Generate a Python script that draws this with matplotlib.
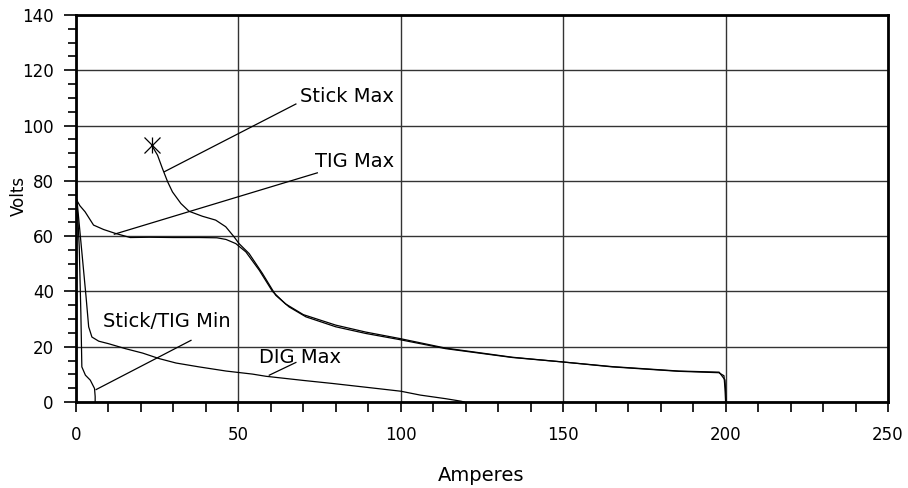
import matplotlib.pyplot as plt
from matplotlib.ticker import MultipleLocator

# volt-ampere curves (amps, volts)
stick_max_a = [23.3, 25.1, 26.6, 28.2, 29.7, 32.3, 34.8, 38.9, 43.0, 46.1, 48.7, 50.2,
               53.3, 57.4, 61.5, 65.6, 70.8, 80.0, 89.2, 99.5, 113.8, 134.3, 149.7,
               165.1, 185.6, 197.9, 199.5, 199.8, 200.0]
stick_max_v = [92.9, 89.3, 84.5, 79.7, 76.0, 71.8, 69.0, 67.2, 65.8, 63.4, 59.7, 57.3,
               53.7, 46.5, 38.6, 34.4, 30.8, 27.2, 24.8, 22.6, 19.3, 16.1, 14.5,
               12.7, 11.1, 10.6, 9.5, 5.0, 0.0]

tig_max_a = [0.0, 1.2, 2.8, 5.4, 8.5, 12.1, 16.7, 22.6, 30.0, 38.0, 43.4, 46.2, 49.2, 52.3,
             56.4, 60.5, 64.5, 70.0, 80.0, 89.2, 99.5, 113.8, 134.3, 149.7, 165.1, 185.6,
             198.0, 199.8, 200.2]
tig_max_v = [73.5, 71.0, 68.8, 64.0, 62.4, 61.0, 59.5, 59.6, 59.5, 59.5, 59.4, 58.8, 57.3, 54.3,
             47.7, 40.0, 35.5, 31.6, 27.8, 25.3, 23.0, 19.5, 16.2, 14.5, 12.8, 11.2,
             10.8, 8.0, 0.0]

min_a = [0.2, 0.6, 1.0, 1.5, 1.8, 2.9, 4.4, 5.7, 5.9, 5.9]
min_v = [73.0, 66.0, 56.0, 32.0, 12.7, 9.7, 7.9, 4.9, 2.0, 0.0]

dig_max_a = [0.3, 1.5, 3.1, 3.9, 4.9, 7.0, 10.0, 15.2, 20.5, 25.6, 30.8, 37.9, 46.2, 54.3,
             58.5, 70.0, 79.0, 93.3, 100.0, 106.0, 113.8, 118.5, 119.5]
dig_max_v = [73.0, 58.0, 38.0, 27.2, 23.5, 22.0, 21.1, 19.3, 17.7, 15.7, 14.1, 12.7, 11.2, 10.1,
             9.3, 7.8, 6.7, 4.8, 3.9, 2.5, 1.2, 0.3, 0.0]

# label text, text anchor, leader start, leader end
labels = ['Stick Max', 'TIG Max', 'Stick/TIG Min', 'DIG Max']
label_xy = [(97.9, 110.5), (97.9, 87.0), (8.2, 29.0), (56.4, 16.2)]
label_ha = ['right', 'right', 'left', 'left']
leader_from = [(67.7, 107.8), (74.3, 82.9), (35.4, 22.3), (67.7, 14.3)]
leader_to = [(27.2, 83.3), (11.8, 60.7), (6.2, 4.5), (59.5, 9.7)]

fig = plt.figure(figsize=(9.08, 4.88), dpi=100)
ax = fig.add_axes([76 / 908, 86 / 488, 812 / 908, 387 / 488])

for a, v in [(stick_max_a, stick_max_v), (tig_max_a, tig_max_v),
             (min_a, min_v), (dig_max_a, dig_max_v)]:
    ax.plot(a, v, color='black', lw=0.9, zorder=3)

# asterisk at start of Stick Max
ax.plot(stick_max_a[0], stick_max_v[0], marker='x', ms=11, mew=0.9, color='black', zorder=4)
ax.plot(stick_max_a[0], stick_max_v[0], marker='|', ms=12, mew=0.9, color='black', zorder=4)

for txt, xy, ha, p0, p1 in zip(labels, label_xy, label_ha, leader_from, leader_to):
    ax.text(xy[0], xy[1], txt, ha=ha, va='center', fontsize=14, zorder=5)
    ax.plot([p0[0], p1[0]], [p0[1], p1[1]], color='black', lw=0.9, zorder=3)

ax.set_xlim(0, 250)
ax.set_ylim(0, 140)
ax.xaxis.set_major_locator(MultipleLocator(50))
ax.xaxis.set_minor_locator(MultipleLocator(10))
ax.yaxis.set_major_locator(MultipleLocator(20))
ax.yaxis.set_minor_locator(MultipleLocator(5))
ax.grid(True, which='major', color='#333333', lw=1.0)
ax.set_axisbelow(True)

for s in ax.spines.values():
    s.set_linewidth(2)
ax.tick_params(axis='both', which='both', direction='out', labelsize=12, width=1.2)
ax.tick_params(axis='x', which='both', length=7, pad=10)
ax.tick_params(axis='y', which='major', length=9, pad=7)
ax.tick_params(axis='y', which='minor', length=6)

ax.set_xlabel('Amperes', fontsize=14)
ax.set_ylabel('Volts', fontsize=12)
ax.xaxis.set_label_coords(0.499, -0.165)
ax.yaxis.set_label_coords(-0.059, 0.532)

fig.savefig('out.png', dpi=100)
